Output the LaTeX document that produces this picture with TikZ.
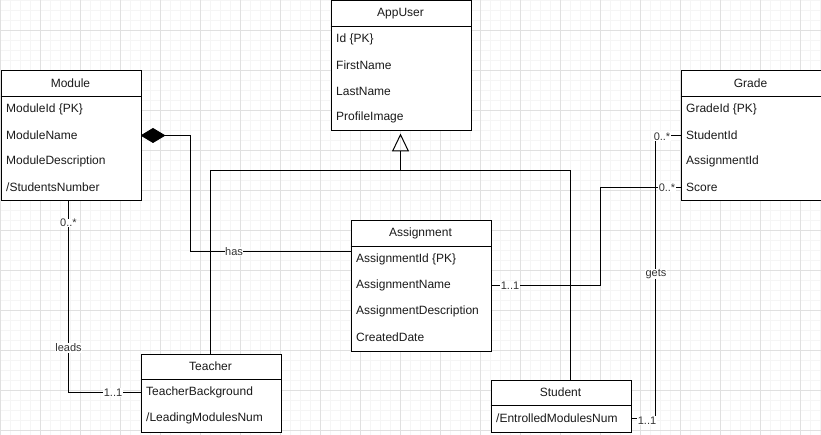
\documentclass[tikz,border=0pt]{standalone}
\usepackage{fontspec}
\setmainfont{Liberation Sans}
\usetikzlibrary{arrows.meta}
\definecolor{minorgrid}{HTML}{F5F5F5}
\definecolor{majorgrid}{HTML}{E0E0E0}
\definecolor{txt}{HTML}{1A1A1A}
\definecolor{lbl}{HTML}{333333}
\tikzset{
  cls/.style={draw=black, line width=1pt, fill=white, anchor=north west, inner sep=0pt, minimum width=140pt},
  hdr/.style={text=txt, font=\fontsize{12}{14}\selectfont, inner sep=0pt},
  attr/.style={text=txt, font=\fontsize{12}{14}\selectfont, anchor=west, inner sep=0pt},
  conn/.style={draw=black, line width=1pt},
  mult/.style={fill=white, text=lbl, font=\fontsize{11}{13}\selectfont, inner sep=0.5pt},
}
\begin{document}
\begin{tikzpicture}[x=1pt,y=-1pt]
\useasboundingbox (0,0) rectangle (821,435);
\fill[white] (0,0) rectangle (821,435);
% grid
\foreach \gx in {0,10,...,820} \draw[minorgrid, line width=0.7pt] (\gx,0) -- (\gx,435);
\foreach \gy in {0,10,...,430} \draw[minorgrid, line width=0.7pt] (0,\gy) -- (821,\gy);
\foreach \gx in {0,40,...,800} \draw[majorgrid, line width=0.7pt] (\gx,0) -- (\gx,435);
\foreach \gy in {30,70,...,430} \draw[majorgrid, line width=0.7pt] (0,\gy) -- (821,\gy);

% ---------- connectors (drawn first, under boxes) ----------
\coordinate (modE) at (140.5,135.5);
\coordinate (compA) at (190.5,135.5);
\coordinate (compB) at (190.5,251.5);
\coordinate (asgW) at (350.5,251.5);
\coordinate (modS) at (68.5,200.5);
\coordinate (leadA) at (68.5,392.5);
\coordinate (teaW) at (140.5,392.5);
\coordinate (teaN) at (210.5,353.5);
\coordinate (inhL) at (210.5,170.5);
\coordinate (inhR) at (570.5,170.5);
\coordinate (inhM) at (400.5,170.5);
\coordinate (stuN) at (570.5,379.5);
\coordinate (usrS) at (400.5,130.5);
\coordinate (asgE) at (490.5,285.5);
\coordinate (agA) at (600.5,285.5);
\coordinate (agB) at (600.5,187.5);
\coordinate (grdScore) at (680.5,187.5);
\coordinate (stuE) at (630.5,418.5);
\coordinate (sgA) at (655.5,418.5);
\coordinate (sgB) at (655.5,135.5);
\coordinate (grdStu) at (680.5,135.5);

% inheritance
\draw[conn] (teaN) -- (inhL) -- (inhR) -- (stuN);
\draw[conn, -{Triangle[open, length=18pt, width=17pt, line width=1pt]}, shorten >=3pt] (inhM) -- (usrS);
% composition
\draw[conn, {Diamond[length=25pt, width=15pt]}-] (modE) -- (compA) -- (compB) -- (asgW);
% leads
\draw[conn] (modS) -- (leadA) -- (teaW);
% assignment - grade
\draw[conn] (asgE) -- (agA) -- (agB) -- (grdScore);
% student - grade
\draw[conn] (stuE) -- (sgA) -- (sgB) -- (grdStu);

% labels
\node[mult] (lHas) at (234,251.5) {has};
\node[mult] (lM0) at (68.5,223) {0..*};
\node[mult] (lLeads) at (68.5,348) {leads};
\node[mult] (lT1) at (113,392.5) {1..1};
\node[mult] (lA1) at (510,286) {1..1};
\node[mult] (lG0b) at (667,187.5) {0..*};
\node[mult] (lGets) at (656,274) {gets};
\node[mult] (lS1) at (647,420.5) {1..1};
\node[mult] (lG0a) at (662,136.5) {0..*};

% ---------- classes ----------
% AppUser
\node[cls, minimum height=130pt] (user) at (330.5,0.5) {};
\draw[conn] (330.5,26.5) -- (470.5,26.5);
\node[hdr] (userT) at (400.5,13.5) {AppUser};
\node[attr] (u1) at (336,39.5) {Id \{PK\}};
\node[attr] (u2) at (336,65.5) {FirstName};
\node[attr] (u3) at (336,91.5) {LastName};
\node[attr] (u4) at (336,117.5) {ProfileImage};

% Module
\node[cls, minimum height=130pt] (module) at (0.5,70.5) {};
\draw[conn] (0.5,96.5) -- (140.5,96.5);
\node[hdr] (moduleT) at (70.5,83.5) {Module};
\node[attr] (m1) at (6,109.5) {ModuleId \{PK\}};
\node[attr] (m2) at (6,135.5) {ModuleName};
\node[attr] (m3) at (6,161.5) {ModuleDescription};
\node[attr] (m4) at (6,187.5) {/StudentsNumber};

% Grade
\node[cls, minimum height=130pt] (grade) at (680.5,70.5) {};
\draw[conn] (680.5,96.5) -- (820.5,96.5);
\node[hdr] (gradeT) at (750.5,83.5) {Grade};
\node[attr] (g1) at (686,109.5) {GradeId \{PK\}};
\node[attr] (g2) at (686,135.5) {StudentId};
\node[attr] (g3) at (686,161.5) {AssignmentId};
\node[attr] (g4) at (686,187.5) {Score};

% Assignment
\node[cls, minimum height=130pt] (asg) at (350.5,220.5) {};
\draw[conn] (350.5,246.5) -- (490.5,246.5);
\node[hdr] (asgT) at (420.5,233.5) {Assignment};
\node[attr] (a1) at (356,259.5) {AssignmentId \{PK\}};
\node[attr] (a2) at (356,285.5) {AssignmentName};
\node[attr] (a3) at (356,311.5) {AssignmentDescription};
\node[attr] (a4) at (356,337.5) {CreatedDate};

% Teacher
\node[cls, minimum height=78pt] (teacher) at (140.5,353.5) {};
\draw[conn] (140.5,379.5) -- (280.5,379.5);
\node[hdr] (teacherT) at (210.5,366.5) {Teacher};
\node[attr] (t1) at (146,392.5) {TeacherBackground};
\node[attr] (t2) at (146,418.5) {/LeadingModulesNum};

% Student
\node[cls, minimum height=52pt] (student) at (490.5,379.5) {};
\draw[conn] (490.5,405.5) -- (630.5,405.5);
\node[hdr] (studentT) at (560.5,392.5) {Student};
\node[attr] (s1) at (496,418.5) {/EntrolledModulesNum};
\end{tikzpicture}
\end{document}
